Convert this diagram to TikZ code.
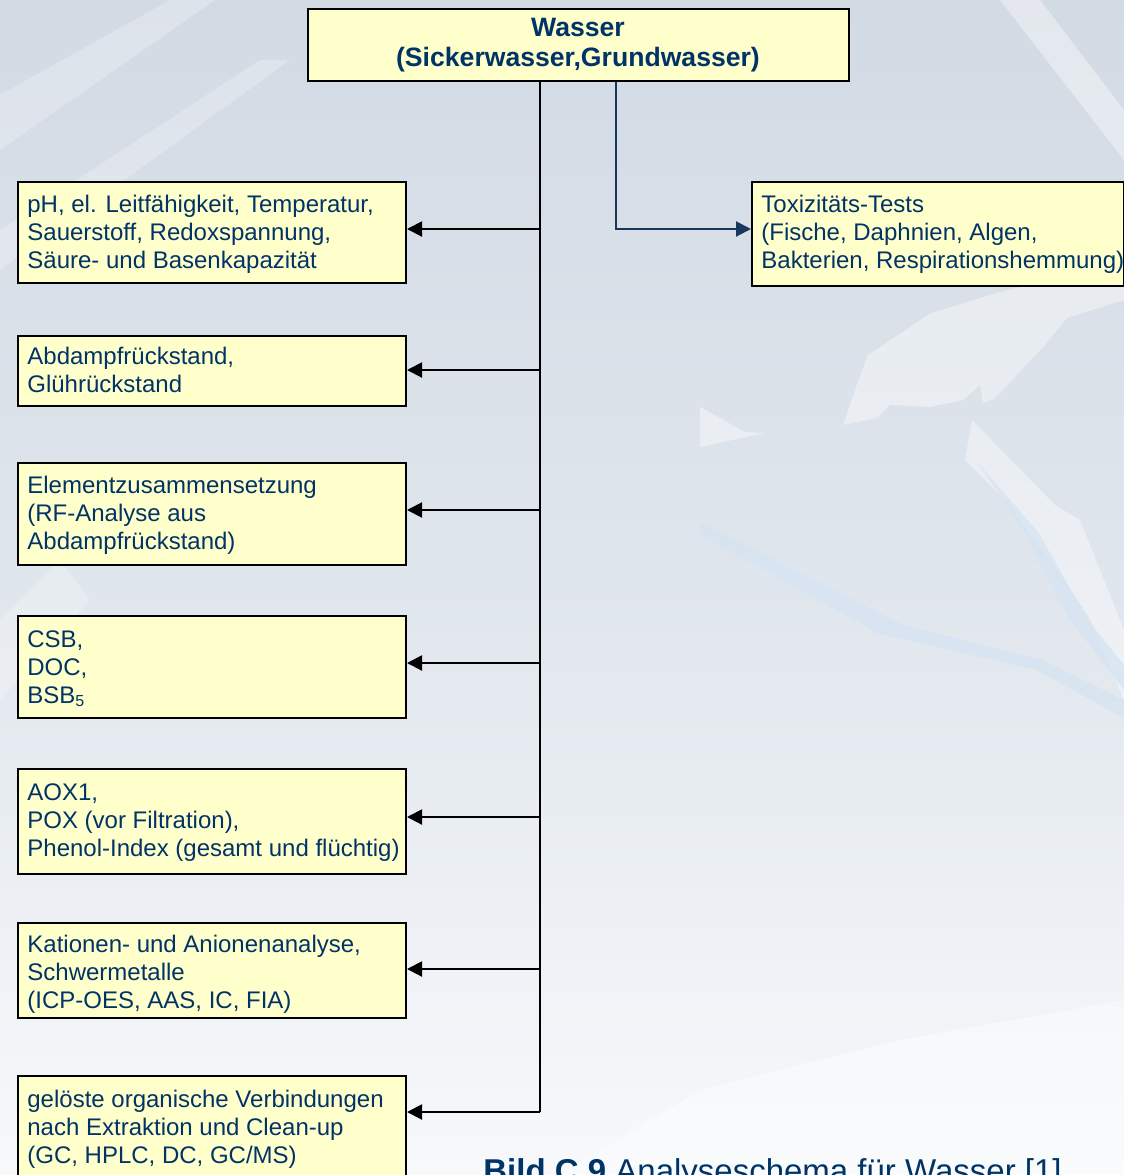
\documentclass[tikz,border=0pt]{standalone}
\usepackage{fontspec}
\setmainfont{Liberation Sans}
\usetikzlibrary{arrows.meta}
\definecolor{boxfill}{RGB}{255,255,204}
\definecolor{inkblue}{RGB}{0,51,102}
\definecolor{navyline}{RGB}{23,55,94}
\definecolor{bgtop}{RGB}{210,218,228}
\definecolor{bgmid}{RGB}{224,230,237}
\definecolor{bgbot}{RGB}{247,249,251}
\definecolor{streak}{RGB}{214,228,242}
\begin{document}
\begin{tikzpicture}[x=0.5pt,y=-0.5pt,
  infobox/.style={draw=black, line width=1pt, fill=boxfill, inner sep=0pt, anchor=north west},
  infotext/.style={anchor=base west, align=left, inner sep=0pt, text=inkblue,
    font=\fontsize{12}{14}\selectfont},
  titletext/.style={anchor=base, align=center, inner sep=0pt, text=inkblue,
    font=\fontsize{13.3}{15}\selectfont\bfseries},
  trunk/.style={line width=1pt, black},
  branch/.style={line width=1pt, black, -{Triangle[length=7.5pt,width=7.5pt]}},
  toxline/.style={line width=1pt, navyline, -{Triangle[length=7.5pt,width=7.5pt]}},
  glow/.style={fill=white, opacity=0.4, draw=none},
  softglow/.style={fill=white, opacity=0.25, draw=none},
  band/.style={fill=streak, opacity=0.8, draw=none},
]
% page and background
\useasboundingbox (0,0) rectangle (1124,1175);
\clip (0,0) rectangle (1124,1175);
\shade[top color=bgtop, bottom color=bgbot, middle color=bgmid] (0,0) rectangle (1124,1175);

% pale ice shapes in the background
\fill[softglow] (0,95) -- (170,0) -- (215,0) -- (0,150) -- cycle;
\fill[softglow] (0,230) -- (260,60) -- (290,60) -- (0,270) -- cycle;
\fill[glow] (1000,0) -- (1040,0) -- (1124,110) -- (1124,160) -- cycle;
\fill[glow] (843,425) -- (855,390) -- (868,355) -- (931,313) -- (1000,292) -- (1124,262)
  -- (1124,300) -- (1067,318) -- (1045,345) -- (995,398) -- (983,403) -- (980,385)
  -- (963,400) -- (930,407) -- (890,405) -- (877,418) -- cycle;
\fill[glow] (700,407) -- (745,432) -- (765,433) -- (700,447) -- cycle;
\fill[glow] (972,420) -- (1055,505) -- (1080,520) -- (1124,630) -- (1124,700)
  -- (1088,615) -- (1050,560) -- (1005,500) -- (965,460) -- cycle;
\fill[band] (700,522) -- (903,625) -- (1043,660) -- (1124,700) -- (1124,718)
  -- (1037,670) -- (880,634) -- (700,535) -- cycle;
\fill[band] (978,463) -- (1038,532) -- (1088,620) -- (1124,665) -- (1124,690)
  -- (1068,617) -- (1022,528) -- cycle;
\fill[glow] (560,1175) -- (700,1090) -- (900,1040) -- (1124,1000) -- (1124,1175) -- cycle;
\fill[softglow] (0,620) -- (60,560) -- (90,600) -- (0,700) -- cycle;

% boxes (text nodes are placed at the baseline of their last line)
\node[infobox, minimum width=270.5pt, minimum height=36pt] (top) at (307,8) {};
\node[titletext] (toptext) at (578,66) {Wasser\\(Sickerwasser,Grundwasser)};

\node[infobox, minimum width=186pt, minimum height=52pt] (tox) at (751,181) {};
\node[infotext] (toxtext) at (761,268) {Toxizitäts-Tests\\(Fische, Daphnien, Algen,\\Bakterien, Respirationshemmung)};

\node[infobox, minimum width=194pt, minimum height=50.5pt] (b1) at (17,181) {};
\node[infotext] (t1) at (27,268) {pH, el. Leitfähigkeit, Temperatur,\\Sauerstoff, Redoxspannung,\\Säure- und Basenkapazität};

\node[infobox, minimum width=194pt, minimum height=35pt] (b2) at (17,335) {};
\node[infotext] (t2) at (27,392) {Abdampfrückstand,\\Glührückstand};

\node[infobox, minimum width=194pt, minimum height=51pt] (b3) at (17,462) {};
\node[infotext] (t3) at (27,549) {Elementzusammensetzung\\(RF-Analyse aus\\Abdampfrückstand)};

\node[infobox, minimum width=194pt, minimum height=51pt] (b4) at (17,615) {};
\node[infotext] (t4) at (27,703) {CSB,\\DOC,\\BSB\textsubscript{5}};

\node[infobox, minimum width=194pt, minimum height=52.5pt] (b5) at (17,768) {};
\node[infotext] (t5) at (27,856) {AOX1,\\POX (vor Filtration),\\Phenol-Index (gesamt und flüchtig)};

\node[infobox, minimum width=194pt, minimum height=47.5pt] (b6) at (17,922) {};
\node[infotext] (t6) at (27,1008) {Kationen- und Anionenanalyse,\\Schwermetalle\\(ICP-OES, AAS, IC, FIA)};

\node[infobox, minimum width=194pt, minimum height=60pt] (b7) at (17,1075) {};
\node[infotext] (t7) at (27,1163) {gelöste organische Verbindungen\\nach Extraktion und Clean-up\\(GC, HPLC, DC, GC/MS)};

% junctions on the main line
\coordinate (j1) at (540,229);
\coordinate (j2) at (540,370);
\coordinate (j3) at (540,510);
\coordinate (j4) at (540,663);
\coordinate (j5) at (540,817);
\coordinate (j6) at (540,969);
\coordinate (j7) at (540,1112);
\coordinate (k) at (616,229);

% connectors
\draw[trunk] (top.south -| j1) -- (j7);
\foreach \i in {1,...,7} {
  \draw[branch] (j\i) -- (j\i -| b\i.east);
}
\draw[toxline] (top.south -| k) -- (k) -- (k -| tox.west);

% caption
\node[anchor=base west, inner sep=0pt, text=inkblue, font=\fontsize{16.5}{19}\selectfont] (caption)
  at (483,1182) {\textbf{Bild C.9} Analyseschema für Wasser [1]};
\end{tikzpicture}
\end{document}
